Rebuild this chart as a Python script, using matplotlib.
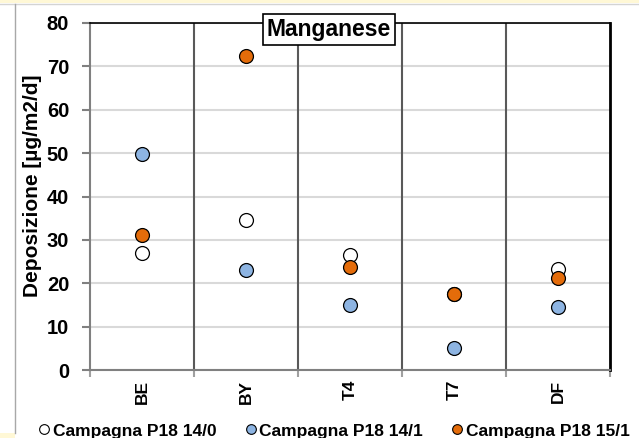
import matplotlib
matplotlib.use('Agg')
import matplotlib.pyplot as plt
from matplotlib.lines import Line2D
from matplotlib.patches import Rectangle
import numpy as np

plt.rcParams['font.family'] = ['Liberation Sans', 'DejaVu Sans']
plt.rcParams['font.weight'] = 'bold'

# Manganese deposition per site, three sampling campaigns
sites = ['BE', 'BY', 'T4', 'T7', 'DF']
camp_14_0 = [27.0, 34.5, 26.5, 17.5, 23.2]
camp_14_1 = [49.8, 23.1, 15.0, 5.0, 14.6]
camp_15_1 = [31.2, 72.5, 23.8, 17.5, 21.3]
labels = ['Campagna P18 14/0', 'Campagna P18 14/1', 'Campagna P18 15/1']
colors = ['white', '#8db4e2', '#e46c0a']

W, H = 639, 438
fig = plt.figure(figsize=(W / 100, H / 100), dpi=100)
ax = fig.add_axes([90 / W, (H - 370) / H, 520 / W, 347 / H])

x = np.arange(len(sites)) + 0.5
for vals, col, lab in zip([camp_14_0, camp_14_1, camp_15_1], colors, labels):
    ax.plot(x, vals, 'o', ms=10, mfc=col, mec='black', mew=0.9, ls='none',
            label=lab, zorder=3)

ax.set_xlim(0, len(sites))
ax.set_ylim(0, 80)
ax.set_yticks(range(0, 81, 10))
ax.yaxis.grid(True, color='#d9d9d9', lw=1.5)
ax.set_axisbelow(True)

# station separators
for b in range(1, len(sites)):
    ax.axvline(b, color='#595959', lw=1.5, zorder=2)

ax.set_xticks(x)
ax.set_xticklabels(sites, rotation=90, fontsize=12.5, fontweight='bold')
ax.tick_params(axis='x', length=0, pad=7)
ax.set_xticks(np.arange(len(sites) + 1), minor=True)
ax.tick_params(axis='x', which='minor', length=5, width=1.5, color='#a0a0a0')
ax.tick_params(axis='y', length=6, width=1.5, color='#808080', pad=9,
               labelsize=14.5)
for t in ax.get_yticklabels():
    t.set_fontweight('bold')

ax.spines['left'].set_color('#808080')
ax.spines['left'].set_linewidth(1.5)
ax.spines['bottom'].set_color('#808080')
ax.spines['bottom'].set_linewidth(1.5)
ax.spines['top'].set_color('black')
ax.spines['top'].set_linewidth(1.2)
ax.spines['right'].set_color('black')
ax.spines['right'].set_linewidth(2)

ax.set_ylabel('Deposizione [µg/m2/d]', fontsize=15, fontweight='bold')
ax.yaxis.set_label_coords(-0.092, 0.53)

fig.text(329 / W, 1 - 29.5 / H, 'Manganese', ha='center', va='center',
         fontsize=16.5, fontweight='bold',
         bbox=dict(boxstyle='square,pad=0.18', fc='white', ec='black', lw=1.2))

handles = [Line2D([], [], marker='o', ls='none', ms=7, mfc=c, mec='black',
                  mew=0.8) for c in colors]
fig.legend(handles, labels, loc='center', bbox_to_anchor=(333 / W, 1 - 431 / H),
           ncol=3, frameon=False, handletextpad=0.05,
           columnspacing=1.5, handlelength=0.9, borderaxespad=0,
           prop={'weight': 'bold', 'size': 12.5})

# window frame bits
fig.add_artist(Rectangle((0, 1 - 3 / H), 1, 3 / H, transform=fig.transFigure,
                         fc='#fff8d6', ec='none'))
fig.add_artist(Line2D([0, 1], [1 - 3.5 / H] * 2, transform=fig.transFigure,
                      color='#d4d4d4', lw=1))
fig.add_artist(Line2D([15 / W] * 2, [1 - 4 / H, 1 - 433 / H],
                      transform=fig.transFigure, color='#a8a8a8', lw=1))
fig.add_artist(Rectangle((0, 0), 15 / W, 5 / H, transform=fig.transFigure,
                         fc='#fff8d6', ec='none'))

fig.savefig('out.png', dpi=100)
